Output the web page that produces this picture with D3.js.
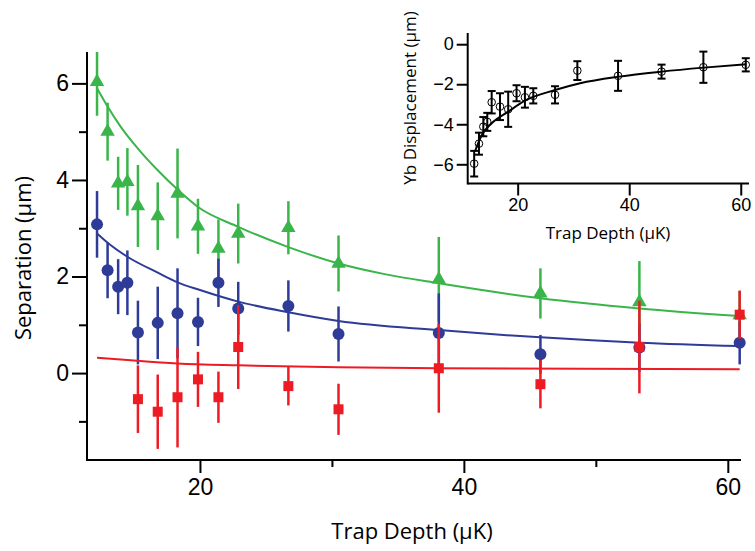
<!DOCTYPE html>
<html>
<head>
<meta charset="utf-8">
<script src="https://cdn.jsdelivr.net/npm/d3@7/dist/d3.min.js"></script>
<style>
  html, body { margin: 0; padding: 0; background: #fff; }
  svg { display: block; font-family: "Open Sans", "Noto Sans", sans-serif; }
</style>
</head>
<body>
<svg id="chart" width="755" height="551"></svg>
<script>
// ---------- main panel data ----------
const depth = [12.2, 13.0, 13.8, 14.5, 15.3, 16.8, 18.3, 19.85, 21.4, 22.9, 26.7, 30.5, 38.1, 45.8, 53.3, 60.9];
const greenSep = [6.03, 5.0, 3.93, 3.96, 3.46, 3.25, 3.72, 3.04, 2.58, 2.89, 3.01, 2.27, 1.94, 1.65, 1.47, 1.2];
const greenErr = [0.7, 0.6, 0.55, 0.7, 0.85, 0.7, 0.93, 0.57, 0.6, 0.62, 0.55, 0.58, 0.88, 0.52, 0.85, 0.5];
const blueSep = [3.08, 2.13, 1.79, 1.87, 0.84, 1.04, 1.24, 1.06, 1.87, 1.34, 1.39, 0.81, 0.83, 0.39, 0.53, 0.63];
const blueErr = [0.69, 0.58, 0.57, 0.67, 0.66, 0.75, 0.93, 0.5, 0.5, 0.55, 0.53, 0.57, 0.82, 0.4, 0.5, 0.45];
const redDepth = [15.3, 16.8, 18.3, 19.85, 21.4, 22.9, 26.7, 30.5, 38.1, 45.8, 53.3, 60.9];
const redSep = [-0.54, -0.8, -0.5, -0.13, -0.5, 0.54, -0.27, -0.75, 0.1, -0.23, 0.54, 1.21];
const redErr = [0.7, 0.77, 1.04, 0.57, 0.53, 0.87, 0.4, 0.53, 0.92, 0.5, 0.96, 0.5];

// fit curves
const greenFitX = [12.2, 13.0, 14.0, 15.3, 16.8, 18.3, 19.85, 22.9, 26.7, 30.5, 34.0, 38.1, 45.8, 53.3, 60.9];
const greenFitY = [5.9, 5.52, 5.1, 4.65, 4.2, 3.8, 3.44, 3.03, 2.61, 2.27, 2.05, 1.86, 1.55, 1.34, 1.18];
const blueFitX = [12.2, 13.0, 14.5, 16.8, 18.3, 20.0, 22.9, 26.7, 30.5, 38.1, 45.8, 53.3, 60.9];
const blueFitY = [2.89, 2.7, 2.41, 2.08, 1.88, 1.72, 1.48, 1.26, 1.08, 0.89, 0.74, 0.63, 0.56];
const redFitX = [12.2, 15.0, 18.3, 22.9, 30.5, 38.1, 60.9];
const redFitY = [0.32, 0.26, 0.2, 0.16, 0.12, 0.1, 0.08];

const mainXTicks = [20, 40, 60];
const mainXMinor = [30, 50];
const mainYTicks = [0, 2, 4, 6];
const mainYMinor = [-1, 1, 3, 5];

// ---------- inset data ----------
const insetDepth = [12.2, 13.06, 13.84, 14.55, 15.34, 16.83, 18.3, 19.8, 21.3, 22.8, 26.7, 30.7, 38.0, 45.8, 53.3, 60.9];
const ybDisp = [-5.97, -4.97, -4.12, -3.88, -2.9, -3.12, -3.25, -2.45, -2.65, -2.58, -2.53, -1.32, -1.58, -1.37, -1.15, -1.03];
const ybErr = [0.64, 0.55, 0.48, 0.45, 0.56, 0.67, 0.88, 0.4, 0.52, 0.38, 0.43, 0.47, 0.75, 0.35, 0.78, 0.33];
const ybFitX = [12.35, 13.55, 15.34, 18.3, 21.3, 26.7, 31.2, 38.2, 45.8, 53.4, 61.0];
const ybFitY = [-5.35, -4.55, -3.95, -3.37, -2.82, -2.29, -1.95, -1.62, -1.37, -1.17, -1.0];
const insetXTicks = [20, 40, 60];
const insetYTicks = [0, -2, -4, -6];

const GREEN = "#39b54a", BLUE = "#2e3b97", RED = "#ed1c24";

const svg = d3.select("#chart");

// ---------- main panel ----------
const x = d3.scaleLinear().domain([11.44, 61.0]).range([87, 741]);
const y = d3.scaleLinear().domain([-1.8, 6.65]).range([460, 52]);

svg.append("defs").append("clipPath").attr("id", "mainClip")
  .append("rect").attr("x", 80).attr("y", 52).attr("width", 675).attr("height", 408);

const plot = svg.append("g").attr("clip-path", "url(#mainClip)");

const line = d3.line().x(d => x(d[0])).y(d => y(d[1])).curve(d3.curveMonotoneX);

function drawSeries(xs, ys, errs, fx, fy, color, shape) {
  plot.append("path").datum(d3.zip(fx, fy)).attr("d", line)
    .attr("fill", "none").attr("stroke", color).attr("stroke-width", 2);
  const pts = d3.zip(xs, ys, errs);
  plot.append("g").selectAll("line").data(pts).join("line")
    .attr("x1", d => x(d[0])).attr("x2", d => x(d[0]))
    .attr("y1", d => y(d[1] + d[2])).attr("y2", d => y(d[1] - d[2]))
    .attr("stroke", color).attr("stroke-width", 2.5);
  const g = plot.append("g");
  if (shape === "tri") {
    g.selectAll("path").data(pts).join("path")
      .attr("d", d3.symbol().type(d3.symbolTriangle).size(90))
      .attr("transform", d => `translate(${x(d[0])},${y(d[1])})`)
      .attr("fill", color);
  } else if (shape === "circle") {
    g.selectAll("circle").data(pts).join("circle")
      .attr("cx", d => x(d[0])).attr("cy", d => y(d[1])).attr("r", 6)
      .attr("fill", color);
  } else {
    g.selectAll("rect").data(pts).join("rect")
      .attr("x", d => x(d[0]) - 5).attr("y", d => y(d[1]) - 5)
      .attr("width", 10).attr("height", 10).attr("fill", color);
  }
}

drawSeries(depth, greenSep, greenErr, greenFitX, greenFitY, GREEN, "tri");
drawSeries(depth, blueSep, blueErr, blueFitX, blueFitY, BLUE, "circle");
drawSeries(redDepth, redSep, redErr, redFitX, redFitY, RED, "square");

// main axes
const xAxisG = svg.append("g").attr("transform", "translate(0,460)");
xAxisG.call(d3.axisBottom(x).tickValues(mainXTicks).tickSize(13).tickPadding(6).tickFormat(d3.format("d")));
xAxisG.append("g").call(d3.axisBottom(x).tickValues(mainXMinor).tickSize(7).tickFormat(""));
xAxisG.selectAll(".domain").remove();
xAxisG.append("line").attr("x1", 87).attr("x2", 741).attr("y1", 0).attr("y2", 0)
  .attr("stroke", "#000").attr("stroke-width", 2);
xAxisG.selectAll(".tick line").attr("stroke", "#000").attr("stroke-width", 2);
xAxisG.selectAll(".tick text").attr("font-size", 23).attr("fill", "#000");

const yAxisG = svg.append("g").attr("transform", "translate(87,0)");
yAxisG.call(d3.axisLeft(y).tickValues(mainYTicks).tickSize(15).tickPadding(3).tickFormat(d3.format("d")));
yAxisG.append("g").call(d3.axisLeft(y).tickValues(mainYMinor).tickSize(8).tickFormat(""));
yAxisG.selectAll(".domain").remove();
yAxisG.append("line").attr("x1", 0).attr("x2", 0).attr("y1", 52).attr("y2", 461)
  .attr("stroke", "#000").attr("stroke-width", 2);
yAxisG.selectAll(".tick line").attr("stroke", "#000").attr("stroke-width", 2);
yAxisG.selectAll(".tick text").attr("font-size", 23).attr("fill", "#000");

svg.append("text").attr("x", 412).attr("y", 539).attr("text-anchor", "middle")
  .attr("font-size", 22).attr("fill", "#000").text("Trap Depth (μK)");
svg.append("text").attr("transform", "translate(31,258) rotate(-90)").attr("text-anchor", "middle")
  .attr("font-size", 22).attr("fill", "#000").text("Separation (μm)");

// ---------- inset ----------
const ix = d3.scaleLinear().domain([11.04, 61.3]).range([467.7, 748]);
const iy = d3.scaleLinear().domain([-6.95, 0.56]).range([183.3, 33]);
const inset = svg.append("g");

inset.append("path").datum(d3.zip(ybFitX, ybFitY))
  .attr("d", d3.line().x(d => ix(d[0])).y(d => iy(d[1])).curve(d3.curveMonotoneX))
  .attr("fill", "none").attr("stroke", "#000").attr("stroke-width", 2);

const ipts = d3.zip(insetDepth, ybDisp, ybErr);
const eb = inset.append("g").selectAll("g").data(ipts).join("g")
  .attr("stroke", "#000").attr("stroke-width", 2);
eb.append("line").attr("x1", d => ix(d[0])).attr("x2", d => ix(d[0]))
  .attr("y1", d => iy(d[1] + d[2])).attr("y2", d => iy(d[1] - d[2]));
eb.append("line").attr("x1", d => ix(d[0]) - 4).attr("x2", d => ix(d[0]) + 4)
  .attr("y1", d => iy(d[1] + d[2])).attr("y2", d => iy(d[1] + d[2]));
eb.append("line").attr("x1", d => ix(d[0]) - 4).attr("x2", d => ix(d[0]) + 4)
  .attr("y1", d => iy(d[1] - d[2])).attr("y2", d => iy(d[1] - d[2]));
inset.append("g").selectAll("circle").data(ipts).join("circle")
  .attr("cx", d => ix(d[0])).attr("cy", d => iy(d[1])).attr("r", 3.8)
  .attr("fill", "none").attr("stroke", "#000").attr("stroke-width", 1);

const ixAxis = inset.append("g").attr("transform", "translate(0,183.5)");
ixAxis.call(d3.axisBottom(ix).tickValues(insetXTicks).tickSize(12).tickPadding(3).tickFormat(d3.format("d")));
ixAxis.selectAll(".domain").remove();
ixAxis.append("line").attr("x1", 467.7).attr("x2", 749).attr("stroke", "#000").attr("stroke-width", 2);
ixAxis.selectAll(".tick line").attr("stroke", "#000").attr("stroke-width", 2);
ixAxis.selectAll(".tick text").attr("font-size", 18).attr("fill", "#000");

const iyAxis = inset.append("g").attr("transform", "translate(467.7,0)");
iyAxis.call(d3.axisLeft(iy).tickValues(insetYTicks).tickSize(11).tickPadding(3).tickFormat(d3.format("d")));
iyAxis.selectAll(".domain").remove();
iyAxis.append("line").attr("y1", 33).attr("y2", 184.5).attr("stroke", "#000").attr("stroke-width", 2);
iyAxis.selectAll(".tick line").attr("stroke", "#000").attr("stroke-width", 2);
iyAxis.selectAll(".tick text").attr("font-size", 18).attr("fill", "#000");

inset.append("text").attr("x", 608).attr("y", 239).attr("text-anchor", "middle")
  .attr("font-size", 17).attr("fill", "#000").text("Trap Depth (μK)");
inset.append("text").attr("transform", "translate(416,98) rotate(-90)").attr("text-anchor", "middle")
  .attr("font-size", 17).attr("fill", "#000").text("Yb Displacement (μm)");
</script>
</body>
</html>
